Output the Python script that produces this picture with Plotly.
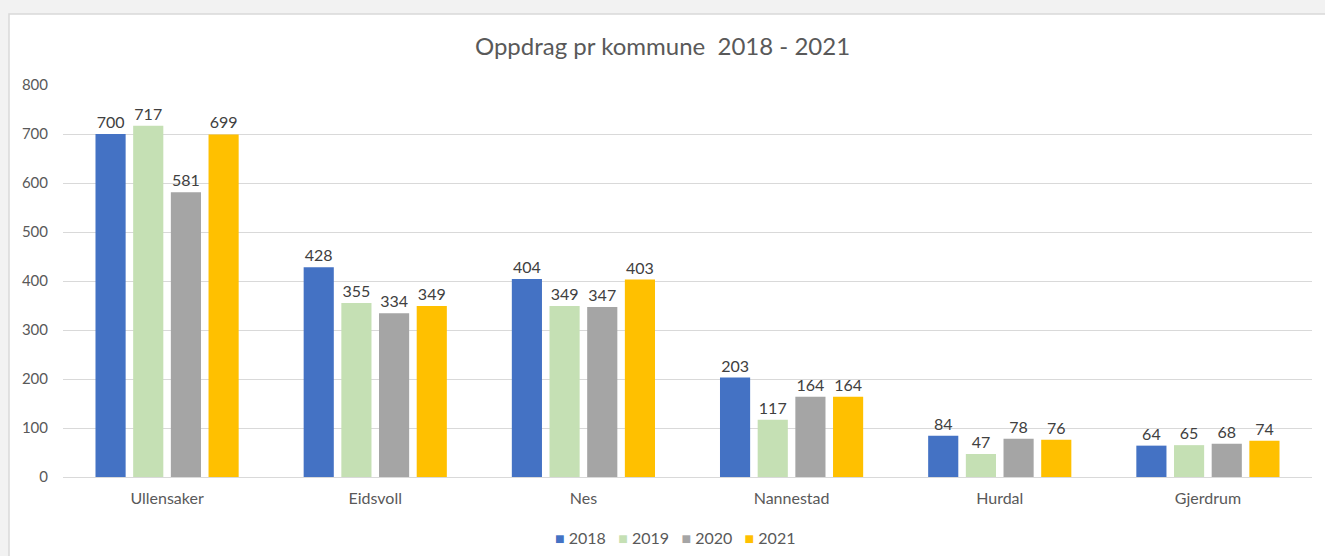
import plotly.graph_objects as go

categories = ["Ullensaker", "Eidsvoll", "Nes", "Nannestad", "Hurdal", "Gjerdrum"]
years = ["2018", "2019", "2020", "2021"]
v2018 = [700, 428, 404, 203, 84, 64]
v2019 = [717, 355, 349, 117, 47, 65]
v2020 = [581, 334, 347, 164, 78, 68]
v2021 = [699, 349, 403, 164, 76, 74]
colors = ["#4472C4", "#C5E0B4", "#A5A5A5", "#FFC000"]

FONT = "Lato"
series = [v2018, v2019, v2020, v2021]

fig = go.Figure()
for name, vals, col in zip(years, series, colors):
    fig.add_trace(go.Bar(
        x=categories, y=vals, name=name, marker=dict(color=col, line=dict(width=0)),
        text=[str(v) for v in vals], textposition="outside", cliponaxis=False,
        textfont=dict(size=16, color="#404040", family=FONT),
        showlegend=False, hoverinfo="skip",
    ))

W, H = 1325, 556
L, R, T, B = 63, 13, 85, 79
pw, ph = W - L - R, H - T - B

def px_x(p):
    return (p - L) / pw

def px_y(p):
    return (H - B - p) / ph

fig.add_shape(type="rect", xref="paper", yref="paper",
              x0=px_x(9), x1=px_x(1340), y0=px_y(570), y1=px_y(14),
              fillcolor="white", line=dict(color="#d9d9d9", width=1.5), layer="below")

# compact legend like the reference
legend_text = "&nbsp;&nbsp;&nbsp;".join(
    f"<span style='color:{c}'>■</span> {y}" for y, c in zip(years, colors)
)
fig.add_annotation(xref="paper", yref="paper", x=px_x(675), y=px_y(537),
                   xanchor="center", yanchor="middle", showarrow=False,
                   text=legend_text, font=dict(size=16, color="#595959", family=FONT))

fig.update_layout(
    width=W, height=H,
    margin=dict(l=L, r=R, t=T, b=B),
    paper_bgcolor="#f2f2f2", plot_bgcolor="rgba(0,0,0,0)",
    barmode="group", bargap=0.276, bargroupgap=0.2,
    title=dict(text="Oppdrag pr kommune  2018 - 2021", x=0.5, xanchor="center",
               y=1 - 47 / H, yanchor="middle",
               font=dict(size=24, color="#595959", family=FONT)),
    font=dict(family=FONT, color="#595959"),
    showlegend=False,
    xaxis=dict(showgrid=False, showline=False, ticks="", tickfont=dict(size=16, color="#595959"),
               ticklabelstandoff=10),
    yaxis=dict(range=[0, 800], dtick=100, showgrid=True, gridcolor="#d9d9d9", gridwidth=1,
               zeroline=True, zerolinecolor="#d9d9d9", zerolinewidth=1, showline=False,
               tickfont=dict(size=15, color="#595959"), ticks="", ticklabelstandoff=14),
)

fig.write_html("out.html", config={"displayModeBar": False},
               post_script="document.body.style.margin='0';document.body.style.overflow='hidden';")
